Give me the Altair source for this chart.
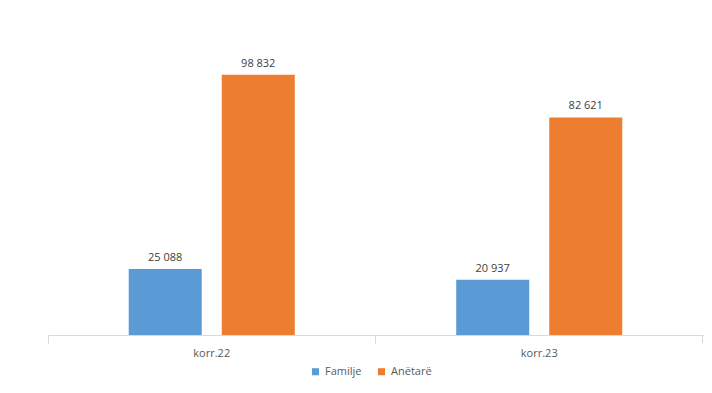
import altair as alt
import pandas as pd

categories = ["korr.22", "korr.23"]
series = ["Familje", "Anëtarë"]
familje = [25088, 20937]
anetare = [98832, 82621]
colors = ["#5b9bd5", "#ed7d31"]

rows = []
for i, c in enumerate(categories):
    for s, vals in zip(series, [familje, anetare]):
        v = vals[i]
        rows.append({"cat": c, "series": s, "value": v,
                     "label": f"{v:,}".replace(",", " ")})
df = pd.DataFrame(rows)

FONT = "Open Sans"
W, H = 655, 316

x = alt.X("cat:N", sort=categories, title=None,
          scale=alt.Scale(paddingInner=0.493, paddingOuter=0.2465),
          axis=alt.Axis(labelAngle=0, domainColor="#d9d9d9", tickColor="#d9d9d9",
                        tickSize=8, bandPosition=-0.486, labelColor="#595959",
                        labelFont=FONT, labelFontSize=11, labelPadding=4))
xo = alt.XOffset("series:N", sort=series,
                 scale=alt.Scale(paddingInner=0.215, paddingOuter=0))
y = alt.Y("value:Q", scale=alt.Scale(domain=[0, 120000]), axis=None)

bars = alt.Chart(df).mark_bar().encode(
    x=x, xOffset=xo, y=y,
    color=alt.Color("series:N", sort=series,
                    scale=alt.Scale(domain=series, range=colors),
                    legend=alt.Legend(title=None, orient="none", legendX=262, legendY=347,
                                      direction="horizontal", symbolType="square",
                                      symbolSize=50, labelFont=FONT, labelFontSize=11,
                                      labelColor="#595959", columnPadding=14,
                                      symbolStrokeWidth=0))
)

text = alt.Chart(df).mark_text(baseline="bottom", dy=-6, font=FONT, fontSize=11,
                               color="#404040").encode(
    x=x, xOffset=xo, y=y, text="label:N"
)

end_tick = alt.Chart(df).mark_rule(color="#d9d9d9").encode(
    x=alt.value(W - 0.5), y=alt.value(H), y2=alt.value(H + 8)
)

chart = (bars + text + end_tick).properties(
    width=W, height=H,
    autosize=alt.AutoSizeParams(type="none"),
    padding={"left": 40, "top": 11, "right": 1, "bottom": 50},
).configure_view(stroke=None)

chart.save("out.html", embed_options={"renderer": "svg", "actions": False})
